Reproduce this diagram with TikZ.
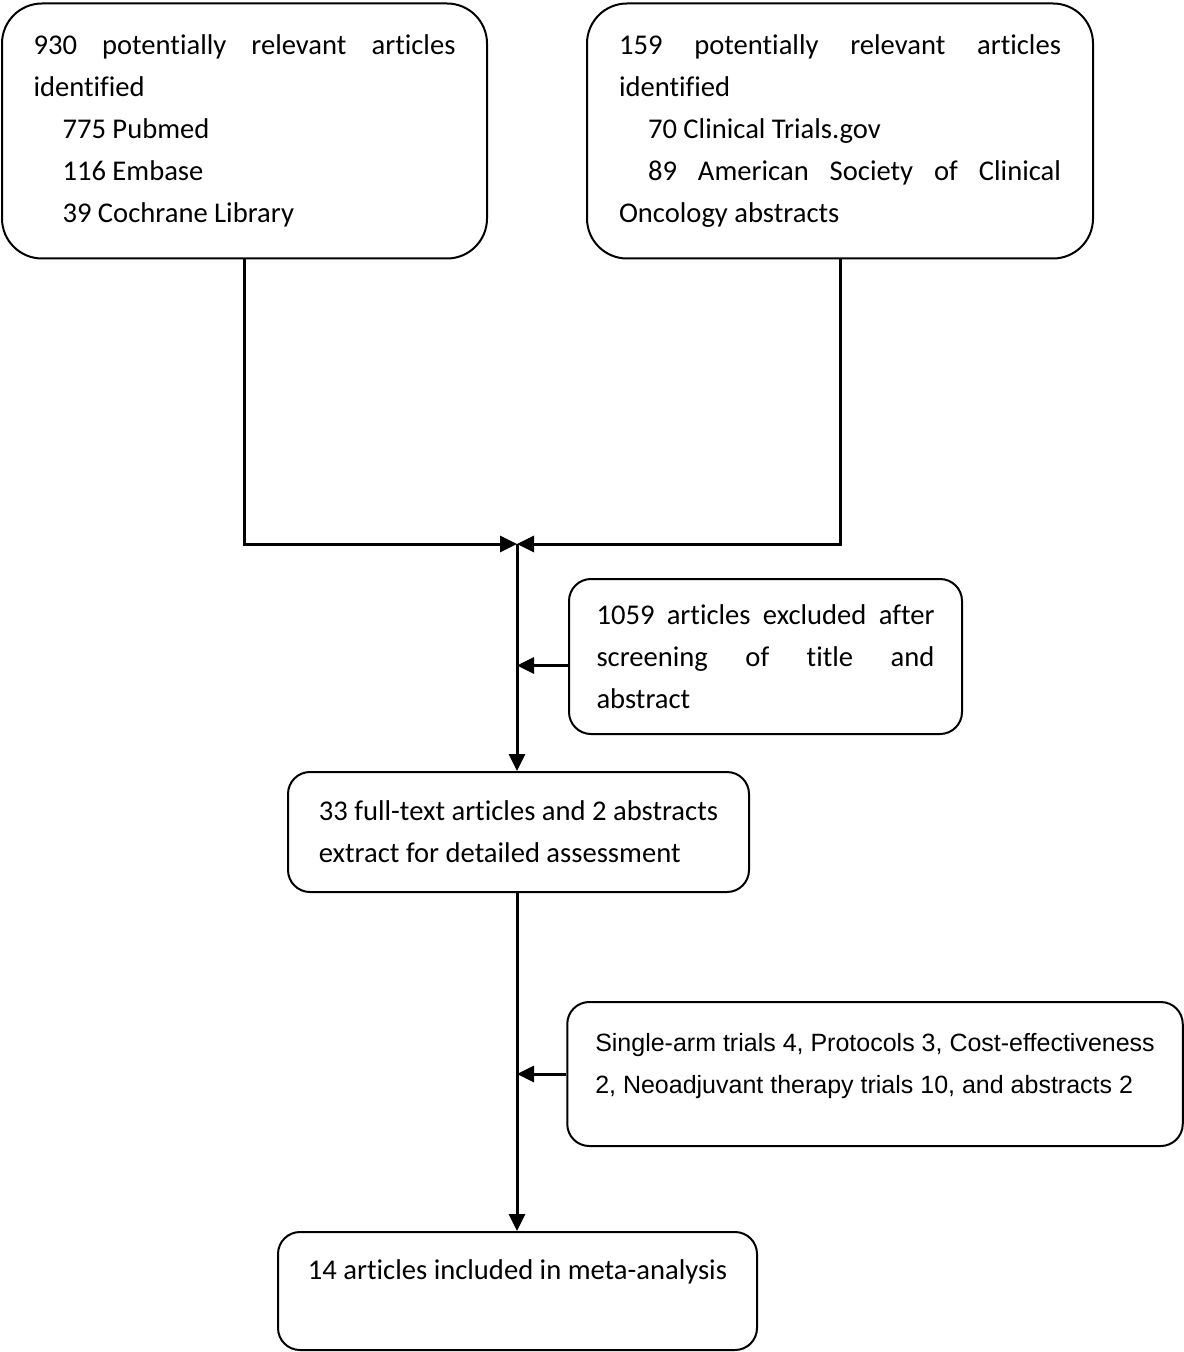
\documentclass[tikz,border=0pt]{standalone}
\usepackage{fontspec}
\setmainfont{Carlito}[Ligatures=CommonOff]
\newfontfamily\arialfont{Liberation Sans}
\usetikzlibrary{arrows.meta}
\begin{document}
\begin{tikzpicture}[x=0.5pt, y=-0.5pt,
  box/.style = {draw, line width=1pt, rounded corners=11pt, inner xsep=14pt, font=\fontsize{14.3}{21}\selectfont},
  big/.style = {box, rounded corners=20pt, align=justify, minimum height=127.5pt},
  line/.style = {line width=1.5pt},
  arr/.style = {line, -{Triangle[length=8.5pt,width=8pt]}}]
\useasboundingbox (0,0) rectangle (1183,1352);
% sources
\node[big, text width=211pt, inner xsep=15.75pt] (A) at (244.5,131) {930 potentially relevant articles \linebreak identified\\ \hspace*{14.5pt}775 Pubmed\\ \hspace*{14.5pt}116 Embase\\ \hspace*{14.5pt}39 Cochrane Library};
\node[big, text width=221pt, inner xsep=16pt] (B) at (840,131) {159 potentially relevant articles \linebreak identified\\ \hspace*{14.5pt}70 Clinical Trials.gov\\ \hspace*{14.5pt}89 American Society of Clinical \linebreak Oncology abstracts};
\coordinate (m) at (517,544);
% screening
\node[box, align=justify, text width=169pt, inner xsep=13.75pt, minimum height=77.5pt] (D) at (765.5,656.5) {1059 articles excluded after \linebreak screening of title and \linebreak abstract};
\node[box, align=left, minimum width=230.5pt, minimum height=60pt] (C) at (518.5,832) {33 full-text articles and 2 abstracts\\ extract for detailed assessment};
\node[box, align=left, minimum width=306pt, minimum height=72pt, text depth=10.6pt, font=\arialfont\fontsize{12.5}{21}\selectfont] (F) at (875,1074) {Single-arm trials 4, Protocols 3, Cost-effectiveness\\ 2, Neoadjuvant therapy trials 10, and abstracts 2};
\node[box, align=left, minimum width=239.5pt, minimum height=59pt] (E) at (517.5,1291) {14 articles included in meta-analysis\\ \mbox{}};
% connectors
\draw[arr] (A.south) |- (m);
\draw[arr] (B.south) |- (m);
\draw[arr] (m) -- (m |- C.north);
\draw[arr] ([yshift=-4.5pt]D.west) -- ([yshift=-4.5pt]D.west -| m);
\draw[arr] (m |- C.south) -- (m |- E.north);
\draw[arr] (F.west) -- (F.west -| m);
\end{tikzpicture}
\end{document}
